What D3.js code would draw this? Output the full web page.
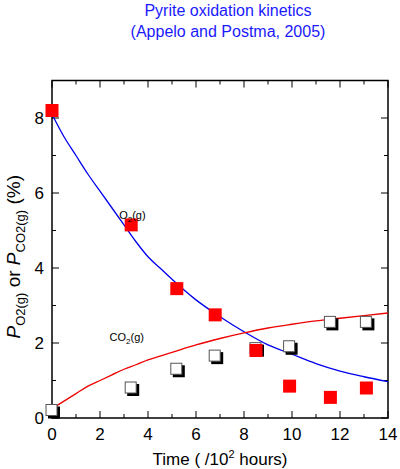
<!DOCTYPE html>
<html><head><meta charset="utf-8">
<script src="https://cdn.jsdelivr.net/npm/d3@7"></script>
<style>body{margin:0;background:#fff}</style>
</head><body>
<svg id="chart" width="400" height="469"></svg>
<script>
const timeData = [0, 3.3, 5.2, 6.8, 8.5, 9.9, 11.6, 13.1];
const o2Data = [8.2, 5.15, 3.45, 2.75, 1.8, 0.85, 0.55, 0.8];
const co2Data = [0.2, 0.8, 1.3, 1.65, 1.85, 1.9, 2.55, 2.55];
const modelTime = [0, 0.5, 1, 1.5, 2, 2.5, 3, 3.5, 4, 4.5, 5, 6, 7, 8, 9, 10, 11, 12, 13, 14];
const o2Model = [8.1, 7.5, 7.0, 6.5, 6.05, 5.6, 5.15, 4.7, 4.3, 4.0, 3.7, 3.15, 2.7, 2.3, 1.95, 1.7, 1.45, 1.25, 1.1, 0.97];
const co2Model = [0.25, 0.45, 0.65, 0.85, 1.0, 1.15, 1.3, 1.42, 1.55, 1.65, 1.75, 1.95, 2.12, 2.27, 2.4, 2.5, 2.59, 2.66, 2.73, 2.8];

const svg = d3.select("#chart");
const x = d3.scaleLinear().domain([0, 14]).range([52, 388]);
const y = d3.scaleLinear().domain([0, 9]).range([418, 80.5]);
const font = "Liberation Sans, Arial";

svg.append("text").attr("x", 228).attr("y", 16).attr("text-anchor", "middle")
  .style("font-family", font).style("font-size", "16px").style("fill", "#1a1aff")
  .text("Pyrite oxidation kinetics");
svg.append("text").attr("x", 228).attr("y", 37).attr("text-anchor", "middle")
  .style("font-family", font).style("font-size", "16px").style("fill", "#1a1aff")
  .text("(Appelo and Postma, 2005)");

const g = svg.append("g");
const line = (x1, y1, x2, y2) => g.append("line").attr("x1", x1).attr("y1", y1).attr("x2", x2).attr("y2", y2).attr("stroke", "#000").attr("stroke-width", 1);
d3.range(0, 15).forEach(v => {
  const L = v % 2 === 0 ? 7 : 4;
  line(x(v), y(0), x(v), y(0) - L);
  line(x(v), y(9), x(v), y(9) + L);
});
d3.range(0, 10).forEach(v => {
  const L = v % 2 === 0 ? 7 : 4;
  line(x(0), y(v), x(0) + L, y(v));
  line(x(14), y(v), x(14) - L, y(v));
});
g.append("rect").attr("x", x(0)).attr("y", y(9)).attr("width", x(14) - x(0)).attr("height", y(0) - y(9))
  .attr("fill", "none").attr("stroke", "#000").attr("stroke-width", 1.5);

[0, 2, 4, 6, 8, 10, 12, 14].forEach(v => {
  svg.append("text").attr("x", x(v)).attr("y", 440).attr("text-anchor", "middle")
    .style("font-family", font).style("font-size", "17px").text(v);
});
[0, 2, 4, 6, 8].forEach(v => {
  svg.append("text").attr("x", 44).attr("y", y(v) + 6).attr("text-anchor", "end")
    .style("font-family", font).style("font-size", "17px").text(v);
});

const xl = svg.append("text").attr("x", 220).attr("y", 465).attr("text-anchor", "middle")
  .style("font-family", font).style("font-size", "17px");
xl.append("tspan").text("Time ( /10");
xl.append("tspan").attr("dy", -7).style("font-size", "11px").text("2");
xl.append("tspan").attr("dy", 7).text(" hours)");

const yl = svg.append("text").attr("transform", "translate(20," + y(4.3) + ") rotate(-90)")
  .attr("text-anchor", "middle").style("font-family", font).style("font-size", "19px");
yl.append("tspan").style("font-style", "italic").text("P");
yl.append("tspan").attr("dy", 5).style("font-size", "13px").text("O2(g)");
yl.append("tspan").attr("dy", -5).text(" or ");
yl.append("tspan").style("font-style", "italic").text("P");
yl.append("tspan").attr("dy", 5).style("font-size", "13px").text("CO2(g)");
yl.append("tspan").attr("dy", -5).text(" (%)");

const lineGen = d3.line().curve(d3.curveMonotoneX);
g.append("path").attr("d", lineGen(modelTime.map((t, i) => [x(t), y(o2Model[i])])))
  .attr("fill", "none").attr("stroke", "#0000ee").attr("stroke-width", 1.3);
g.append("path").attr("d", lineGen(modelTime.map((t, i) => [x(t), y(co2Model[i])])))
  .attr("fill", "none").attr("stroke", "#ee0000").attr("stroke-width", 1.3);

const s = 12;
timeData.forEach((t, i) => {
  g.append("rect").attr("x", x(t) - s / 2 + 2).attr("y", y(co2Data[i]) - s / 2 + 2).attr("width", s).attr("height", s).attr("fill", "#000");
  g.append("rect").attr("x", x(t) - s / 2).attr("y", y(co2Data[i]) - s / 2).attr("width", s - 1).attr("height", s - 1)
    .attr("fill", "#fff").attr("stroke", "#555").attr("stroke-width", 1);
});
timeData.forEach((t, i) => {
  g.append("rect").attr("x", x(t) - 6.5).attr("y", y(o2Data[i]) - 6.5).attr("width", 13).attr("height", 13).attr("fill", "#f00");
});

function label(tx, ty, main) {
  const t = svg.append("text").attr("x", x(tx)).attr("y", y(ty)).style("font-family", font).style("font-size", "11px");
  t.append("tspan").text(main);
  t.append("tspan").attr("dy", 3).style("font-size", "8px").text("2");
  t.append("tspan").attr("dy", -3).text("(g)");
}
label(2.8, 5.3, "O");
label(2.4, 2.05, "CO");
</script>
</body></html>
